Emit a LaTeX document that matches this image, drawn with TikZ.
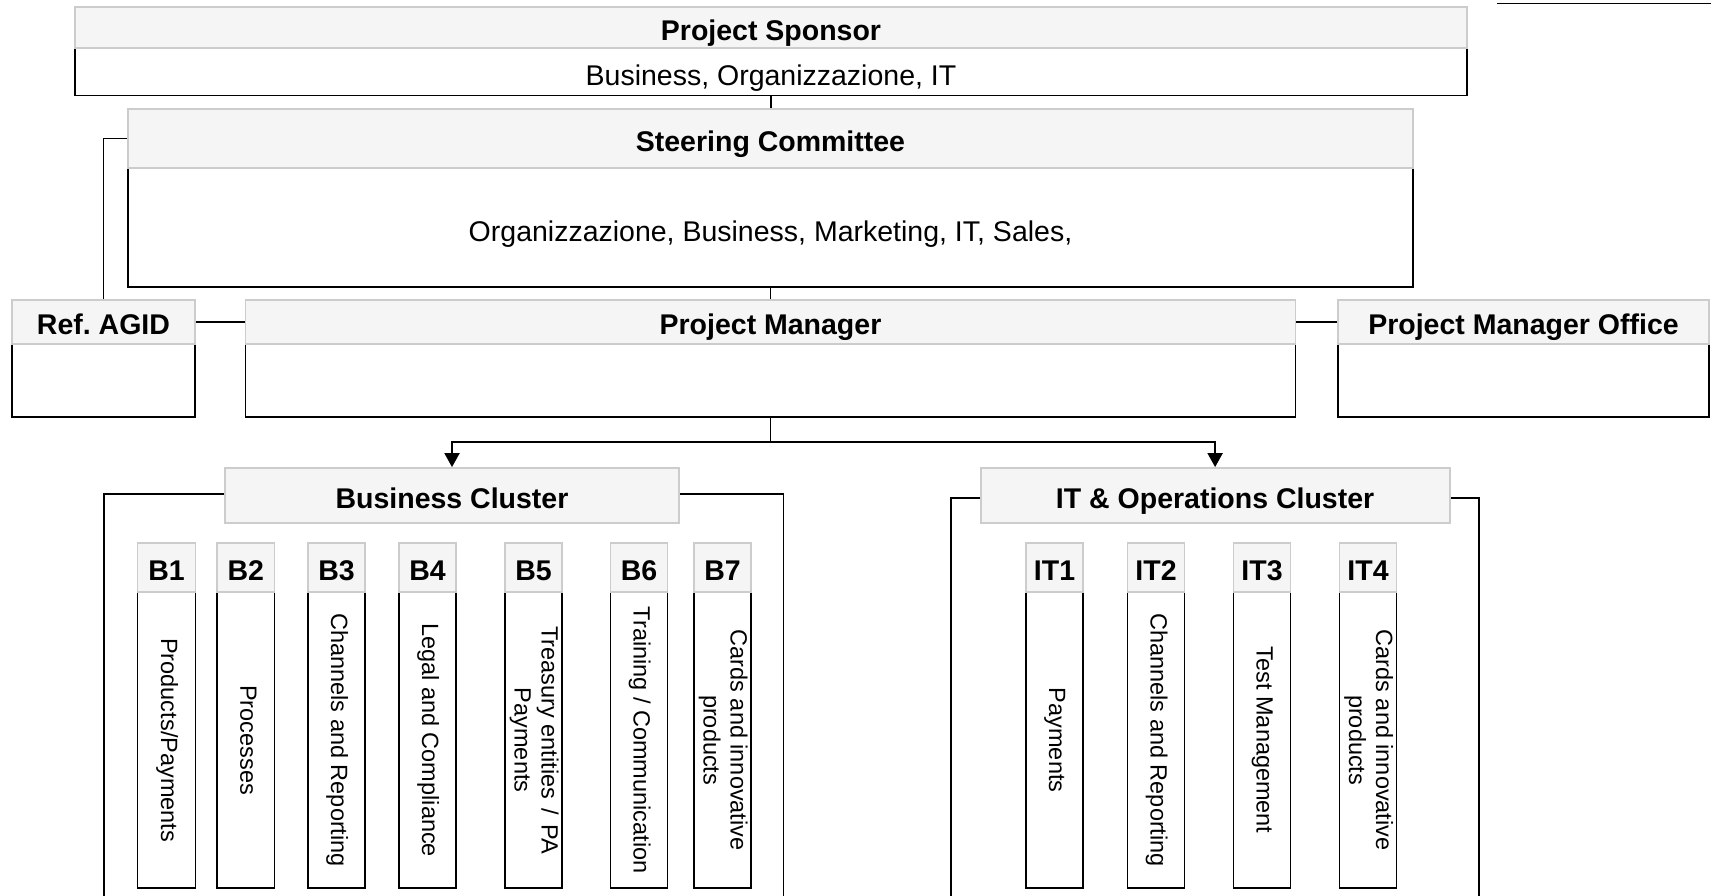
\documentclass[tikz,border=0pt]{standalone}
\usepackage{fontspec}
\setmainfont{Liberation Sans}
\usepackage{graphicx}
\usetikzlibrary{arrows.meta}
\definecolor{hdrfill}{HTML}{F5F5F5}
\definecolor{hdrline}{HTML}{CCCCCC}
\frenchspacing
% name, x1, x2, ytop, ymid, ybot, header text, body text
\newcommand{\orgbox}[8]{%
  \node[bodybox, minimum width={(#3-#2)*1pt}, minimum height={(#6-#5)*1pt}] (#1B) at ({(#2+#3)/2},{(#5+#6)/2}) {#8};
  \node[hdrbox, minimum width={(#3-#2)*1pt}, minimum height={(#5-#4)*1pt}] (#1H) at ({(#2+#3)/2},{(#4+#5)/2}) {#7};
}
\newcommand{\vtext}[1]{\rotatebox{-90}{\fontsize{23.5}{27}\selectfont\begin{tabular}{@{}c@{}}#1\end{tabular}}}
\newcommand{\htext}[1]{\raisebox{-14pt}[0pt][0pt]{#1}}
\begin{document}
\begin{tikzpicture}[x=1pt,y=-1pt,
  hdrbox/.style={draw=hdrline, fill=hdrfill, line width=1.8pt, inner sep=0pt,
    font=\bfseries\fontsize{28.5}{34}\selectfont, text height=28.4pt, text depth=2.6pt},
  bodybox/.style={draw=black, fill=white, line width=1.8pt, inner sep=0pt,
    font=\fontsize{28.5}{34}\selectfont},
  conn/.style={draw=black, line width=1.9pt},
  arr/.style={conn, -{Triangle[length=14pt,width=15pt]}},
  framebox/.style={draw=black, line width=1.9pt}
]
\useasboundingbox (0,0) rectangle (1711,896);
\clip (0,0) rectangle (1711,896);

% stray line top right
\draw[conn] (1497,3.5) -- (1712,3.5);

% top level boxes
\orgbox{ps}{75}{1467}{7}{48}{95.5}{Project Sponsor}{\htext{Business, Organizzazione, IT}}
\orgbox{sc}{128}{1413}{109}{168}{287}{Steering Committee}{\htext{Organizzazione, Business, Marketing, IT, Sales,}}
\orgbox{ref}{12}{195}{300}{344}{417}{Ref. AGID}{}
\orgbox{pm}{245.5}{1295.5}{300}{344}{417}{Project Manager}{}
\orgbox{pmo}{1338}{1709}{300}{344}{417}{Project Manager Office}{}

% cluster frames
\draw[framebox] (104,950) -- (104,494) -- (783.5,494) -- (783.5,950);
\draw[framebox] (951,950) -- (951,498) -- (1479,498) -- (1479,950);

% cluster headers
\node[hdrbox, minimum width=454pt, minimum height=55pt] (bcH) at (452,495.5) {Business Cluster};
\node[hdrbox, minimum width=469pt, minimum height=55pt] (itcH) at (1215.1,495.5) {IT \& Operations Cluster};

% business sub-boxes
\orgbox{b1}{137.5}{195.5}{542.7}{592.3}{888}{B1}{\vtext{Products/Payments}}
\orgbox{b2}{217}{274.5}{542.7}{592.3}{888}{B2}{\vtext{Processes}}
\orgbox{b3}{308}{365}{542.7}{592.3}{888}{B3}{\vtext{Channels and Reporting}}
\orgbox{b4}{399}{456}{542.7}{592.3}{888}{B4}{\vtext{Legal and Compliance}}
\orgbox{b5}{505}{562}{542.7}{592.3}{888}{B5}{\vtext{Treasury entities\hspace{0.4em}/\hspace{0.4em}PA\\Payments}}
\orgbox{b6}{610.5}{667.5}{542.7}{592.3}{888}{B6}{\vtext{Training / Communication}}
\orgbox{b7}{694}{751}{542.7}{592.3}{888}{B7}{\vtext{Cards and innovative\\products}}

% IT sub-boxes
\orgbox{it1}{1026}{1083}{542.7}{592.3}{888}{IT1}{\vtext{Payments}}
\orgbox{it2}{1127.5}{1184.5}{542.7}{592.3}{888}{IT2}{\vtext{Channels and Reporting}}
\orgbox{it3}{1233.5}{1290.5}{542.7}{592.3}{888}{IT3}{\vtext{Test Management}}
\orgbox{it4}{1339.5}{1396.5}{542.7}{592.3}{888}{IT4}{\vtext{Cards and innovative\\products}}

% connectors
\draw[conn] (psB.south) -- (psB.south |- scH.north);
\draw[conn] (scB.south) -- (scB.south |- pmH.north);
\draw[conn] (refH.north) |- (scH.west);
\draw[conn] (refH.east) -- (pmH.west);
\draw[conn] (pmH.east) -- (pmoH.west);
\coordinate (split) at (pmB.south |- 0,442);
\draw[arr] (pmB.south) -- (split) -| (bcH.north);
\draw[arr] (split) -| (itcH.north);
\end{tikzpicture}
\end{document}
